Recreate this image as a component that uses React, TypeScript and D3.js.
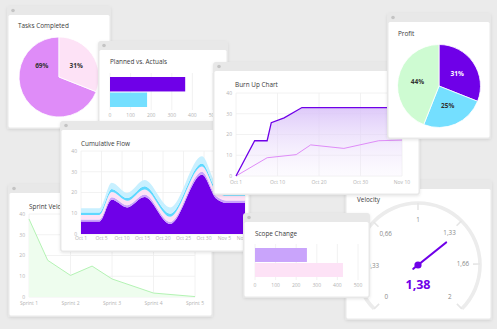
import React from 'react';
import * as d3 from 'd3';

const W = 497;
const H = 329;

// ---------- Data ----------
const tasksLabels = ['Completed', 'Remaining'];
const tasksValues = [69, 31];

const plannedCategories = ['Planned', 'Actual'];
const plannedValues = [365, 180];
const barTicks = [0, 100, 200, 300, 400, 500];

const burnTickValues = [0, 10, 20, 30, 40];
const burnTickLabels = ['Oct 1', 'Oct 10', 'Oct 20', 'Oct 30', 'Nov 10'];
const burnScopeX = [0, 4.5, 7.5, 8.5, 11.6, 15.9, 40];
const burnScopeY = [0, 17, 17, 25.7, 28, 33, 33];
const burnDoneX = [0, 7.5, 14.5, 18, 26, 34.4, 40];
const burnDoneY = [0, 8.8, 10.3, 15, 13.3, 17, 17.3];
const yTicks40 = [0, 10, 20, 30, 40];

const profitLabels = ['A', 'B', 'C'];
const profitValues = [31, 25, 44];

const cfLabels = ['Oct 1', 'Oct 5', 'Oct 10', 'Oct 15', 'Oct 20', 'Oct 25', 'Oct 30', 'Nov 5', 'Nov 10'];
const cfX = [0, 0.9, 1.5, 2.25, 3.1, 4.35, 5.9, 6.6, 7.1, 8];
const cfDone = [6, 6, 16.5, 12.8, 17.8, 4.8, 28.5, 17, 15, 15];
const cfReview = [1, 1, 1.2, 1, 1.2, 1, 1.5, 1.2, 1.2, 1.2];
const cfTesting = [2.2, 2.2, 2.5, 2.2, 2.5, 2.5, 2.5, 2.2, 2.2, 2.2];
const cfProgress = [1.2, 1.2, 1.5, 1.3, 1.5, 1.5, 1.5, 1.3, 1.3, 1.3];
const cfTodo = [2, 2, 3, 2.5, 3, 3, 3.5, 2.5, 2.5, 2.5];

const sprintLabels = ['Sprint 1', 'Sprint 2', 'Sprint 3', 'Sprint 4', 'Sprint 5'];
const sprintX = [1, 1.45, 2, 2.52, 3, 4, 5];
const sprintY = [37.6, 17.7, 10.4, 14.9, 8.7, 1.9, 0.2];

const scopeCategories = ['Added', 'Total'];
const scopeValues = [252, 427];

const gaugeTicks = [0, 0.33, 0.66, 1, 1.33, 1.66, 2];
const gaugeValue = 1.38;

// ---------- Styles ----------
const PURPLE = '#6f00e8';
const CYAN = '#74dfff';
const LAV = '#c9a4fb';
const PINK = '#fde2f6';
const LILAC = '#df8cf8';
const GREEN = '#cefbd2';
const GRID = '#efefef';
const AXIS_TXT = '#b3b3b3';
const FONT = "'Open Sans', sans-serif";
const BAR_H = 9;

type CardProps = { id: string; x: number; y: number; w: number; h: number; title: string; tx: number; ty: number; children?: React.ReactNode };

function Card({ id, x, y, w, h, title, tx, ty, children }: CardProps) {
  return (
    <g>
      <defs>
        <clipPath id={`clip-${id}`}>
          <rect x={x + 1.5} y={y + BAR_H} width={w - 3} height={h - BAR_H - 1.5} />
        </clipPath>
      </defs>
      <rect x={x} y={y} width={w} height={h} rx={3} fill="#e8e8e8" filter="url(#shadow)" />
      <rect x={x + 1.5} y={y + BAR_H} width={w - 3} height={h - BAR_H - 1.5} rx={1.5} fill="#ffffff" />
      <circle cx={x + 6} cy={y + BAR_H / 2} r={1.8} fill="#c4c4c4" />
      <g clipPath={`url(#clip-${id})`}>
        <text x={tx} y={ty} fontSize={6.4} fill="#3a3a3a" fontFamily={FONT}>{title}</text>
        {children}
      </g>
    </g>
  );
}

function gridY(ticks: number[], y: d3.ScaleLinear<number, number>, x0: number, x1: number) {
  return ticks.map((t) => <line key={'gy' + t} x1={x0} x2={x1} y1={y(t)} y2={y(t)} stroke={GRID} strokeWidth={0.8} />);
}

function yLabels(ticks: number[], y: d3.ScaleLinear<number, number>, xEnd: number) {
  return ticks.map((t) => (
    <text key={'yl' + t} x={xEnd} y={y(t)} dy="0.35em" textAnchor="end" fontSize={5} fill={AXIS_TXT} fontFamily={FONT}>{t}</text>
  ));
}

function TasksCard() {
  const cx = 59, cy = 77, r = 40;
  const pie = d3.pie<number>().sort(null).startAngle(0.31 * 2 * Math.PI).endAngle(2 * Math.PI + 0.31 * 2 * Math.PI);
  const arcs = pie(tasksValues);
  const arc = d3.arc<d3.PieArcDatum<number>>().innerRadius(0).outerRadius(r);
  const labelArc = d3.arc<d3.PieArcDatum<number>>().innerRadius(r * 0.52).outerRadius(r * 0.52);
  const colors = [LILAC, PINK];
  return (
    <Card id="tasks" x={7} y={6} w={104} h={123} title="Tasks Completed" tx={18} ty={28}>
      <g transform={`translate(${cx},${cy})`}>
        {arcs.map((a, i) => <path key={tasksLabels[i]} d={arc(a) || ''} fill={colors[i]} stroke="#fff" strokeWidth={0.8} />)}
        {arcs.map((a, i) => {
          const [lx, ly] = labelArc.centroid(a);
          const yy = i === 0 ? -Math.abs(ly) : ly;
          return <text key={'l' + i} x={lx} y={yy} dy="0.35em" textAnchor="middle" fontSize={6.5} fontWeight={700} fill="#333" fontFamily={FONT}>{tasksValues[i]}%</text>;
        })}
      </g>
    </Card>
  );
}

function HBarCard({ id, x, y, w, h, title, values, cats, colors, x0, x1, yTop, yBot, labelY }: any) {
  const xs = d3.scaleLinear().domain([0, 500]).range([x0, x1]);
  const ys = d3.scaleBand<string>().domain(cats).range([yTop, yBot]).paddingInner(0.07);
  return (
    <Card id={id} x={x} y={y} w={w} h={h} title={title} tx={x + 12} ty={y + 23}>
      {barTicks.map((t) => <line key={'g' + t} x1={xs(t)} x2={xs(t)} y1={yTop - 4} y2={yBot + 3} stroke={GRID} strokeWidth={0.8} />)}
      {cats.map((c: string, i: number) => (
        <rect key={c} x={xs(0)} y={ys(c)} width={xs(values[i]) - xs(0)} height={ys.bandwidth()} fill={colors[i]} />
      ))}
      {barTicks.map((t) => (
        <text key={'t' + t} x={xs(t)} y={labelY} dy="0.35em" textAnchor="middle" fontSize={5} fill={AXIS_TXT} fontFamily={FONT}>{t}</text>
      ))}
    </Card>
  );
}

function BurnUpCard() {
  const x = d3.scaleLinear().domain([0, 40]).range([236, 402]);
  const y = d3.scaleLinear().domain([0, 40]).range([176, 93]);
  const scope = burnScopeX.map((d, i) => [d, burnScopeY[i]] as [number, number]);
  const done = burnDoneX.map((d, i) => [d, burnDoneY[i]] as [number, number]);
  const line = d3.line<[number, number]>().x((d) => x(d[0])).y((d) => y(d[1]));
  const area = d3.area<[number, number]>().x((d) => x(d[0])).y0(y(0)).y1((d) => y(d[1]));
  return (
    <Card id="burn" x={213} y={62} w={207} h={133} title="Burn Up Chart" tx={235} ty={87}>
      <defs>
        <linearGradient id="burnGrad" x1="0" y1="0" x2="0" y2="1">
          <stop offset="0%" stopColor="#d8c0f8" stopOpacity={0.85} />
          <stop offset="100%" stopColor="#f3ebfd" stopOpacity={0.2} />
        </linearGradient>
      </defs>
      {gridY(yTicks40, y, x(0), x(40))}
      {burnTickValues.map((t) => <line key={'v' + t} x1={x(t)} x2={x(t)} y1={y(40)} y2={y(0)} stroke={GRID} strokeWidth={0.8} />)}
      <path d={area(scope) || ''} fill="url(#burnGrad)" />
      <path d={line(done) || ''} fill="none" stroke={LILAC} strokeWidth={1} />
      <path d={line(scope) || ''} fill="none" stroke={PURPLE} strokeWidth={1.3} />
      {yLabels(yTicks40, y, 232)}
      {burnTickValues.map((t, i) => (
        <text key={'xl' + t} x={x(t)} y={182} dy="0.35em" textAnchor="middle" fontSize={5} fill={AXIS_TXT} fontFamily={FONT}>{burnTickLabels[i]}</text>
      ))}
    </Card>
  );
}

function ProfitCard() {
  const cx = 439, cy = 86, r = 41.5;
  const pie = d3.pie<number>().sort(null);
  const arcs = pie(profitValues);
  const arc = d3.arc<d3.PieArcDatum<number>>().innerRadius(0).outerRadius(r);
  const labelArc = d3.arc<d3.PieArcDatum<number>>().innerRadius(r * 0.53).outerRadius(r * 0.53);
  const colors = [PURPLE, CYAN, GREEN];
  const txt = ['#ffffff', '#333', '#333'];
  return (
    <Card id="profit" x={387} y={13} w={104} h={126} title="Profit" tx={398} ty={36}>
      <g transform={`translate(${cx},${cy})`}>
        {arcs.map((a, i) => <path key={profitLabels[i]} d={arc(a) || ''} fill={colors[i]} stroke="#fff" strokeWidth={0.8} />)}
        {arcs.map((a, i) => {
          const [lx, ly] = labelArc.centroid(a);
          return <text key={'l' + i} x={lx} y={ly} dy="0.35em" textAnchor="middle" fontSize={6.5} fontWeight={700} fill={txt[i]} fontFamily={FONT}>{profitValues[i]}%</text>;
        })}
      </g>
    </Card>
  );
}

function CumulativeCard() {
  const x = d3.scaleLinear().domain([0, 8]).range([81, 245]);
  const y = d3.scaleLinear().domain([0, 40]).range([234, 151]);
  const keys = ['done', 'review', 'testing', 'progress', 'todo'];
  const series = [cfDone, cfReview, cfTesting, cfProgress, cfTodo];
  const rows = cfX.map((xx, i) => {
    const r: any = { x: xx };
    keys.forEach((k, j) => (r[k] = series[j][i]));
    return r;
  });
  const stack = d3.stack<any>().keys(keys)(rows);
  const area = d3.area<any>().x((d) => x(d.data.x)).y0((d) => y(d[0])).y1((d) => y(d[1])).curve(d3.curveMonotoneX);
  const colors = [PURPLE, LAV, PINK, '#5fd8ff', '#c8f0ff'];
  return (
    <Card id="cf" x={60} y={121} w={190} h={131} title="Cumulative Flow" tx={81} ty={146}>
      {gridY(yTicks40, y, x(0), x(8))}
      {cfLabels.map((l, i) => <line key={'v' + l} x1={x(i)} x2={x(i)} y1={y(40)} y2={y(0)} stroke={GRID} strokeWidth={0.8} />)}
      {stack.map((s, i) => <path key={keys[i]} d={area(s) || ''} fill={colors[i]} />)}
      {yLabels(yTicks40, y, 77)}
      {cfLabels.map((l, i) => (
        <text key={'xl' + l} x={x(i)} y={238.5} dy="0.35em" textAnchor="middle" fontSize={5} fill={AXIS_TXT} fontFamily={FONT}>{l}</text>
      ))}
    </Card>
  );
}

function SprintCard() {
  const x = d3.scaleLinear().domain([1, 5]).range([29, 195]);
  const y = d3.scaleLinear().domain([0, 40]).range([297, 214]);
  const pts = sprintX.map((d, i) => [d, sprintY[i]] as [number, number]);
  const line = d3.line<[number, number]>().x((d) => x(d[0])).y((d) => y(d[1]));
  const area = d3.area<[number, number]>().x((d) => x(d[0])).y0(y(0)).y1((d) => y(d[1]));
  return (
    <Card id="sprint" x={8} y={184} w={205} h={133} title="Sprint Velocity" tx={29} ty={209}>
      {gridY(yTicks40, y, x(1), x(5))}
      {sprintLabels.map((l, i) => <line key={'v' + l} x1={x(i + 1)} x2={x(i + 1)} y1={y(40)} y2={y(0)} stroke={GRID} strokeWidth={0.8} />)}
      <path d={area(pts) || ''} fill="#eefdee" />
      <path d={line(pts) || ''} fill="none" stroke="#b4f3b4" strokeWidth={1} />
      {yLabels(yTicks40, y, 25)}
      {sprintLabels.map((l, i) => (
        <text key={'xl' + l} x={x(i + 1)} y={303} dy="0.35em" textAnchor="middle" fontSize={5} fill={AXIS_TXT} fontFamily={FONT}>{l}</text>
      ))}
    </Card>
  );
}

function VelocityCard() {
  const cx = 418, cy = 265, R = 62;
  const ang = d3.scaleLinear().domain([0, 2]).range([-135, 135]);
  const rad = (v: number) => (ang(v) * Math.PI) / 180;
  const pt = (v: number, r: number) => [cx + r * Math.sin(rad(v)), cy - r * Math.cos(rad(v))];
  const arc = d3.arc()({ innerRadius: R - 1.8, outerRadius: R + 1.8, startAngle: rad(0), endAngle: rad(2) } as any) || '';
  const fmt = (v: number) => String(v).replace('.', ',');
  const [nx0, ny0] = pt(gaugeValue, -6);
  const [nx1, ny1] = pt(gaugeValue, 36);
  return (
    <Card id="vel" x={345} y={180} w={147} h={140} title="Velocity" tx={357} ty={202}>
      <path d={arc} transform={`translate(${cx},${cy})`} fill="#ececec" />
      {gaugeTicks.map((t) => {
        const [a, b] = pt(t, R);
        const [c, d] = pt(t, R - 7);
        return <line key={'tk' + t} x1={a} y1={b} x2={c} y2={d} stroke="#e6e6e6" strokeWidth={1.6} />;
      })}
      {gaugeTicks.map((t) => {
        const [a, b] = pt(t, 45);
        return <text key={'gl' + t} x={a} y={b} dy="0.35em" textAnchor="middle" fontSize={6.3} fill="#8a8a8a" fontFamily={FONT}>{fmt(t)}</text>;
      })}
      <line x1={nx0} y1={ny0} x2={nx1} y2={ny1} stroke={PURPLE} strokeWidth={2.2} strokeLinecap="round" />
      <circle cx={cx} cy={cy} r={3.6} fill={PURPLE} />
      <text x={cx} y={285} dy="0.35em" textAnchor="middle" fontSize={12.5} fontWeight={700} fill={PURPLE} fontFamily={FONT}>{fmt(gaugeValue)}</text>
    </Card>
  );
}

export default function App() {
  return (
    <svg width={W} height={H} style={{ position: 'absolute', left: 0, top: 0, display: 'block' }} fontFamily={FONT}>
      <defs>
        <filter id="shadow" x="-10%" y="-10%" width="120%" height="125%">
          <feDropShadow dx={0} dy={1} stdDeviation={1.4} floodColor="#000" floodOpacity={0.1} />
        </filter>
      </defs>
      <rect x={0} y={0} width={W} height={H} fill="#ebebeb" />
      <TasksCard />
      <SprintCard />
      <HBarCard id="planned" x={98} y={41} w={130} h={87} title="Planned vs. Actuals" values={plannedValues} cats={plannedCategories} colors={[PURPLE, CYAN]} x0={110} x1={213} yTop={77} yBot={107} labelY={115.5} />
      <CumulativeCard />
      <VelocityCard />
      <BurnUpCard />
      <ProfitCard />
      <HBarCard id="scope" x={243} y={213} w={127} h={85} title="Scope Change" values={scopeValues} cats={scopeCategories} colors={[LAV, PINK]} x0={255} x1={358} yTop={248} yBot={277} labelY={285.5} />
    </svg>
  );
}
